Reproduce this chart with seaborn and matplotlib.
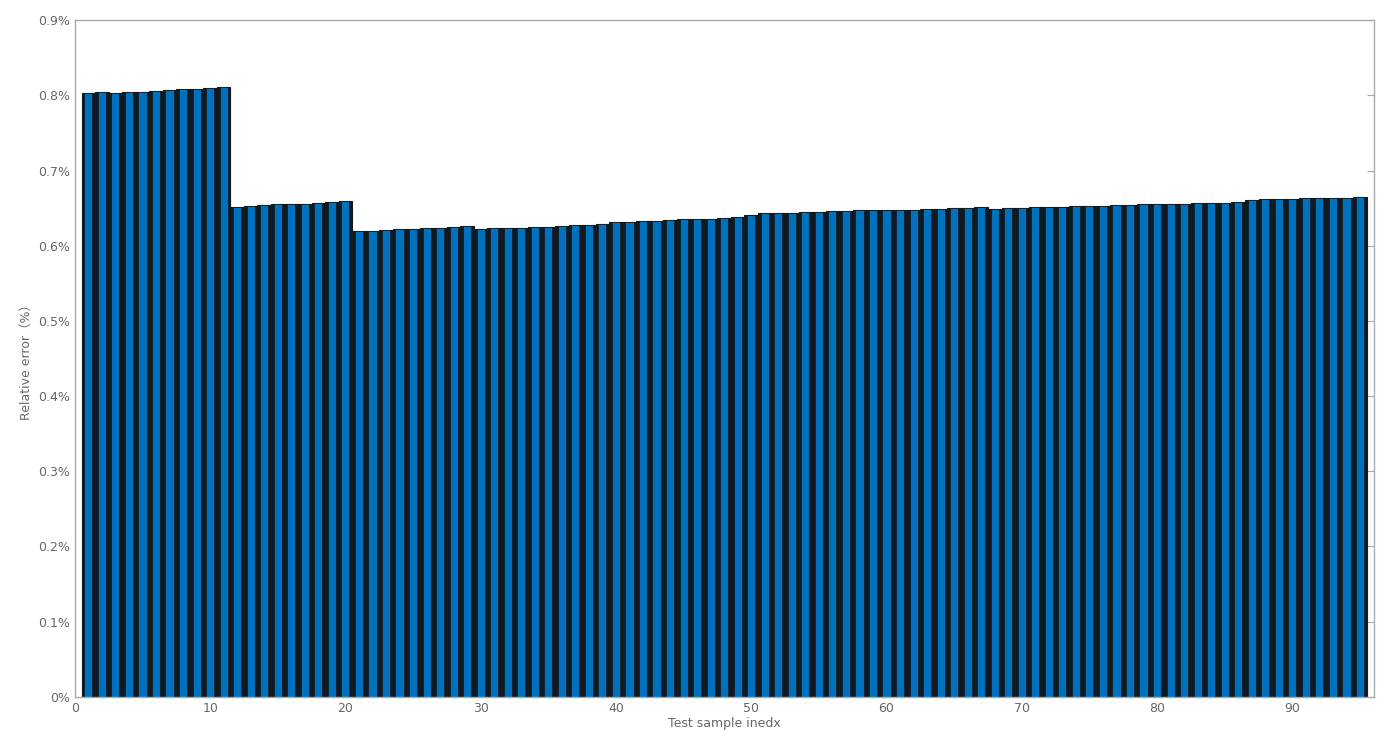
"""Relative error per test sample, bar chart."""
import matplotlib

matplotlib.use("Agg")
import matplotlib.pyplot as plt
import seaborn as sns
from matplotlib.ticker import FuncFormatter

# Relative error (%) for each test sample
group_a = [0.803, 0.804, 0.803, 0.804, 0.805, 0.806, 0.807, 0.808, 0.809, 0.810, 0.811]
group_b = [0.652, 0.653, 0.654, 0.655, 0.655, 0.656, 0.657, 0.658, 0.659]
group_c = [0.620, 0.620, 0.621, 0.622, 0.622, 0.623, 0.624, 0.625, 0.626]
group_d = [
    0.622, 0.623, 0.624, 0.624, 0.625, 0.625, 0.626, 0.627, 0.628, 0.629,
    0.631, 0.632, 0.633, 0.633, 0.634, 0.635, 0.636, 0.636, 0.637, 0.638,
    0.641, 0.643, 0.644, 0.644, 0.645, 0.645, 0.646, 0.646, 0.647, 0.647,
    0.647, 0.648, 0.648, 0.649, 0.649, 0.650, 0.650, 0.651, 0.649, 0.650,
    0.650, 0.651, 0.652, 0.652, 0.653, 0.653, 0.653, 0.654, 0.654, 0.655,
    0.655, 0.656, 0.656, 0.657, 0.657, 0.657, 0.658, 0.661, 0.662, 0.662,
    0.662, 0.663, 0.663, 0.664, 0.664, 0.665,
]
errors = group_a + group_b + group_c + group_d
sample_index = list(range(1, len(errors) + 1))

x_ticks = [0, 10, 20, 30, 40, 50, 60, 70, 80, 90]
y_ticks = [0.0, 0.1, 0.2, 0.3, 0.4, 0.5, 0.6, 0.7, 0.8, 0.9]


def main() -> None:
    sns.set_style("white")
    plt.rcParams["font.family"] = ["DejaVu Sans", "Noto Sans CJK SC"]

    fig = plt.figure(figsize=(13.86, 7.5), dpi=100)
    ax = fig.add_axes([0.054, 0.071, 0.937, 0.902])

    # dark full-width bars give the black stripes between the blue faces
    sns.barplot(
        x=sample_index, y=errors, native_scale=True, width=1.0,
        color="#101820", saturation=1, edgecolor="#101820", linewidth=0.8,
        ax=ax,
    )
    sns.barplot(
        x=sample_index, y=errors, native_scale=True, width=0.6,
        color="#0072BD", saturation=1, edgecolor="#101820", linewidth=0.5,
        ax=ax,
    )

    ax.set_xlim(0, 96)
    ax.set_ylim(0, 0.9)
    ax.set_xticks(x_ticks)
    ax.set_yticks(y_ticks)
    ax.yaxis.set_major_formatter(
        FuncFormatter(lambda v, _: "0%" if v == 0 else f"{v:.1f}%")
    )
    ax.tick_params(
        direction="in", length=5, width=0.8, colors="#aaaaaa",
        labelcolor="#666666", labelsize=9, top=False, right=True,
    )
    for spine in ax.spines.values():
        spine.set_visible(True)
        spine.set_color("#aaaaaa")
        spine.set_linewidth(1.0)

    ax.set_xlabel("Test sample inedx", fontsize=9, color="#666666", labelpad=2)
    ax.set_ylabel("Relative error（%）", fontsize=9, color="#666666", labelpad=4)
    ax.grid(False)

    fig.savefig("out.png", dpi=100)
    plt.close(fig)


if __name__ == "__main__":
    main()
